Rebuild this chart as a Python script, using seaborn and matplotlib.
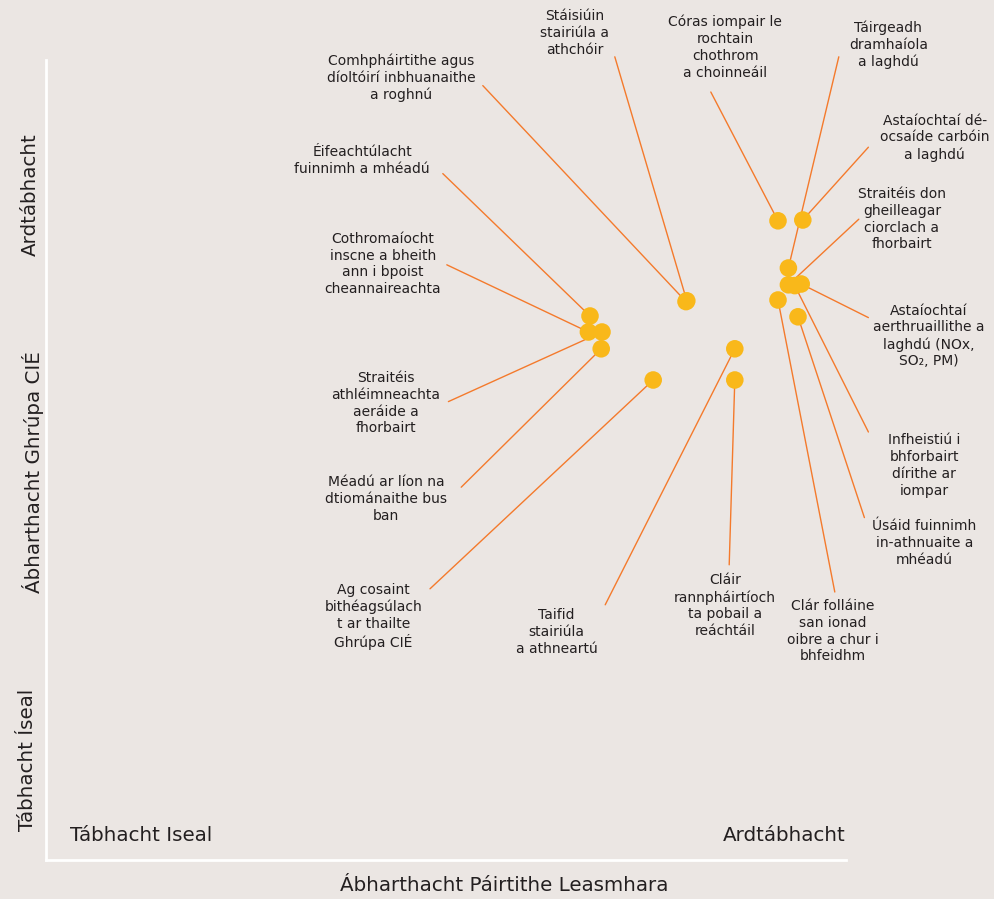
import pandas as pd
import matplotlib.pyplot as plt
import seaborn as sns

# Importance scores (x = stakeholder relevance, y = CIÉ group relevance)
topics = [
    'Stáisiúin\nstairiúla a\nathchóir',
    'Comhpháirtithe agus\ndíoltóirí inbhuanaithe\na roghnú',
    'Éifeachtúlacht\nfuinnimh a mhéadú',
    'Cothromaíocht\ninscne a bheith\nann i bpoist\ncheannaireachta',
    'Straitéis\nathléimneachta\naeráide a\nfhorbairt',
    'Méadú ar líon na\ndtiománaithe bus\nban',
    'Ag cosaint\nbithéagsúlach\nt ar thailte\nGhrúpa CIÉ',
    'Taifid\nstairiúla\na athneartú',
    'Cláir\nrannpháirtíoch\nta pobail a\nreáchtáil',
    'Córas iompair le\nrochtain\nchothrom\na choinneáil',
    'Táirgeadh\ndramhaíola\na laghdú',
    'Astaíochtaí dé-\nocsaíde carbóin\na laghdú',
    'Straitéis don\ngheilleagar\nciorclach a\nfhorbairt',
    'Astaíochtaí\naerthruaillithe a\nlaghdú (NOx,\nSO₂, PM)',
    'Infheistiú i\nbhforbairt\ndírithe ar\niompar',
    'Úsáid fuinnimh\nin-athnuaite a\nmhéadú',
    'Clár folláine\nsan ionad\noibre a chur i\nbhfeidhm',
]
stakeholder = [8.01, 8.00, 6.80, 6.78, 6.95, 6.94, 7.59, 8.61, 8.61,
               9.15, 9.28, 9.46, 9.28, 9.44, 9.36, 9.40, 9.15]
cie_group = [6.99, 6.98, 6.80, 6.60, 6.60, 6.39, 6.00, 6.39, 6.00,
             7.99, 7.40, 8.00, 7.19, 7.20, 7.18, 6.79, 7.00]

# Label layout: text centre and leader line end (axis units)
label_xy = [(6.61, 10.34), (4.44, 9.78), (3.95, 8.74), (4.21, 7.45), (4.25, 5.71),
            (4.25, 4.51), (4.09, 3.04), (6.38, 2.85), (8.49, 3.18), (8.49, 10.16),
            (10.53, 10.19), (11.11, 9.03), (10.70, 8.01), (11.03, 6.55), (10.98, 4.93),
            (10.98, 3.96), (9.83, 2.86)]
leader_xy = [(7.11, 10.04), (5.46, 9.68), (4.96, 8.58), (5.01, 7.44), (5.03, 5.73),
             (5.19, 4.66), (4.80, 3.39), (6.99, 3.19), (8.54, 3.69), (8.31, 9.60),
             (9.91, 10.04), (10.28, 8.91), (10.16, 8.01), (10.28, 6.78), (10.28, 5.35),
             (10.23, 4.28), (9.86, 3.35)]

df = pd.DataFrame({'topic': topics, 'stakeholder': stakeholder, 'cie': cie_group})

bg = '#ebe6e3'
text_col = '#231f20'
sns.set_theme(style='white')
plt.rcParams['font.family'] = ['DejaVu Sans']

fig = plt.figure(figsize=(9.95, 8.99), dpi=100, facecolor=bg)
ax = fig.add_axes([46 / 995, 39 / 899, 800 / 995, 800 / 899])
ax.set_facecolor(bg)

for (lx, ly), (_, row) in zip(leader_xy, df.iterrows()):
    ax.plot([lx, row['stakeholder']], [ly, row['cie']], color='#f47a2c', lw=1.0,
            clip_on=False, zorder=1)
for (tx, ty), t in zip(label_xy, df['topic']):
    ax.text(tx, ty, t, ha='center', va='center', fontsize=10, color=text_col,
            linespacing=1.25, clip_on=False)

sns.scatterplot(data=df, x='stakeholder', y='cie', ax=ax, s=160, color='#f9b81a',
                edgecolor='none', zorder=3, clip_on=False)

ax.set_xlim(0, 10)
ax.set_ylim(0, 10)
ax.set_xticks([])
ax.set_yticks([])
ax.set_xlabel('')
ax.set_ylabel('')
for side in ['top', 'right']:
    ax.spines[side].set_visible(False)
for side in ['left', 'bottom']:
    ax.spines[side].set_color('white')
    ax.spines[side].set_linewidth(2)

ax.text(0.3, 0.31, 'Tábhacht Iseal', ha='left', va='center', fontsize=14.3, color=text_col)
ax.text(10, 0.31, 'Ardtábhacht', ha='right', va='center', fontsize=14.3, color=text_col)

fig.text(0.507, 0.0145, 'Ábharthacht Páirtithe Leasmhara', ha='center', va='center',
         fontsize=14.3, color=text_col)
fig.text(0.030, 0.783, 'Ardtábhacht', rotation=90, ha='center', va='center',
         fontsize=14.3, color=text_col)
fig.text(0.033, 0.475, 'Ábharthacht Ghrúpa CIÉ', rotation=90, ha='center', va='center',
         fontsize=14.3, color=text_col)
fig.text(0.028, 0.155, 'Tábhacht Íseal', rotation=90, ha='center', va='center',
         fontsize=14.3, color=text_col)

plt.savefig('out.png', dpi=100, facecolor=bg)
